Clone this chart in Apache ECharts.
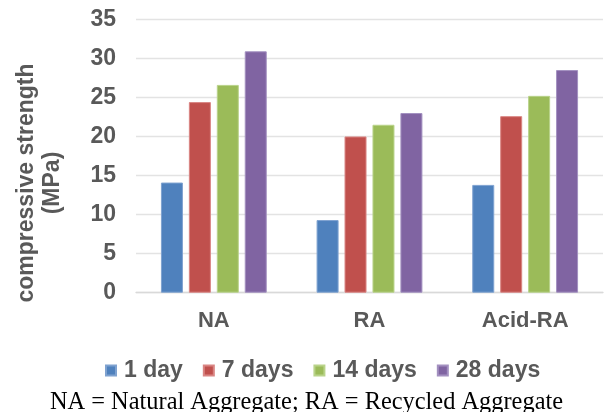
<!DOCTYPE html>
<html>
<head>
<meta charset="utf-8">
<script src="https://cdn.jsdelivr.net/npm/echarts@6/dist/echarts.min.js"></script>
<style>
  html, body { margin: 0; padding: 0; background: #fff; }
  #chart { width: 605px; height: 412px; }
</style>
</head>
<body>
<div id="chart"></div>
<script>
// Aggregate types on the category axis
const categories = ['NA', 'RA', 'Acid-RA'];

// Compressive strength (MPa) by curing age
const day1 = [14.1, 9.3, 13.8];
const day7 = [24.4, 20.0, 22.6];
const day14 = [26.6, 21.5, 25.2];
const day28 = [30.9, 23.0, 28.5];

const seriesNames = ['1 day', '7 days', '14 days', '28 days'];
const seriesValues = [day1, day7, day14, day28];
const fills = ['#4F81BD', '#C0504D', '#9BBB59', '#8064A2'];
const edges = ['#7FA2D0', '#D98583', '#B9D38A', '#A390C0'];

const axisFont = 'Liberation Sans, Arial, sans-serif';
const grey = '#595959';

const chart = echarts.init(document.getElementById('chart'), null, { renderer: 'canvas' });

chart.setOption({
  animation: false,
  backgroundColor: '#ffffff',
  grid: { left: 136, right: 2, top: 19.3, bottom: 119.3, containLabel: false },
  xAxis: {
    type: 'category',
    data: categories,
    axisLine: { lineStyle: { color: '#D9D9D9', width: 1.3 } },
    axisTick: { show: false },
    axisLabel: { color: grey, fontFamily: axisFont, fontWeight: 'bold', fontSize: 22, margin: 17 }
  },
  yAxis: {
    type: 'value',
    min: 0,
    max: 35,
    interval: 5,
    axisLine: { show: false },
    axisTick: { show: false },
    splitLine: { lineStyle: { color: '#E3E3E3', width: 1.3 } },
    axisLabel: { color: grey, fontFamily: axisFont, fontWeight: 'bold', fontSize: 23, margin: 20 }
  },
  legend: {
    data: seriesNames,
    left: 100,
    top: 354,
    itemWidth: 10,
    itemHeight: 10,
    itemGap: 20,
    icon: 'rect',
    textStyle: { color: grey, fontFamily: axisFont, fontWeight: 'bold', fontSize: 23, padding: [0, 0, 0, 3] }
  },
  graphic: [
    {
      type: 'text',
      x: 40,
      y: 183,
      rotation: Math.PI / 2,
      style: {
        text: 'compressive strength\n(MPa)',
        font: 'bold 23px ' + axisFont,
        fill: grey,
        align: 'center',
        verticalAlign: 'middle',
        lineHeight: 26
      }
    },
    {
      type: 'text',
      x: 306.5,
      y: 403,
      style: {
        text: 'NA = Natural Aggregate; RA = Recycled Aggregate',
        font: '24.4px "Liberation Serif", "Times New Roman", serif',
        fill: '#000000',
        align: 'center',
        verticalAlign: 'middle'
      }
    }
  ],
  series: seriesNames.map((name, i) => ({
    name: name,
    type: 'bar',
    data: seriesValues[i],
    barWidth: 22,
    barGap: '27%',
    itemStyle: { color: fills[i], borderColor: edges[i], borderWidth: 1 }
  }))
});
</script>
</body>
</html>
